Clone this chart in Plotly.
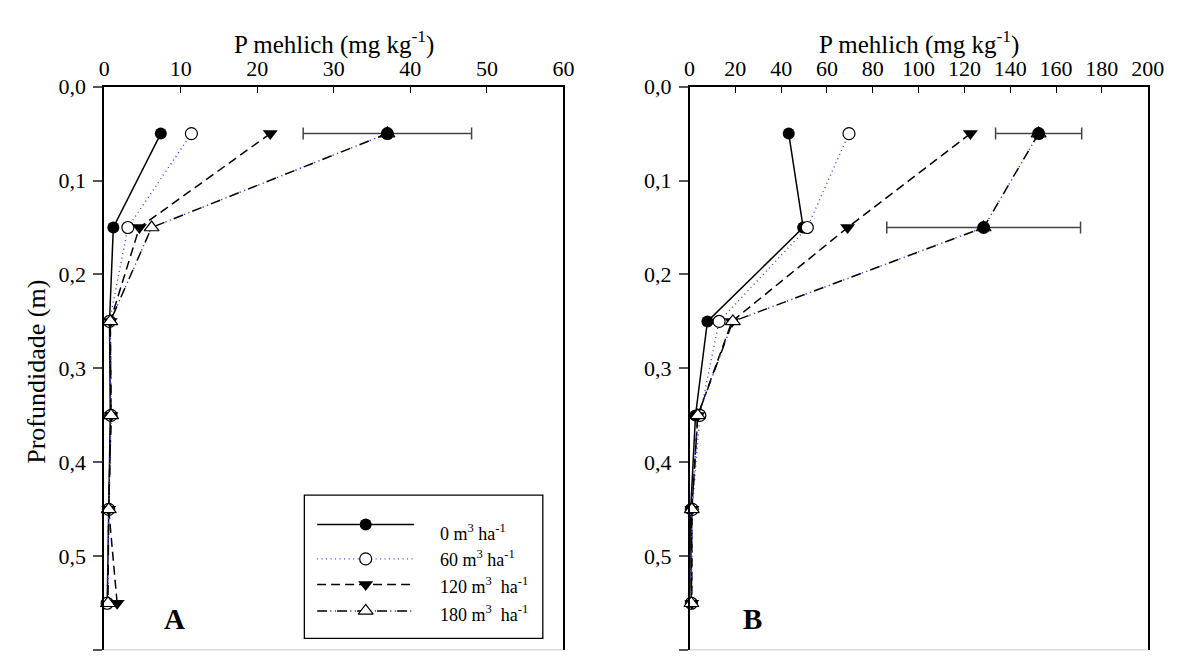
import plotly.graph_objects as go

# Soil depth of each sampling layer (m)
depth = [0.05, 0.15, 0.25, 0.35, 0.45, 0.55]

# Panel A: P mehlich (mg kg-1) per manure dose
a_0 = [7.4, 1.2, 0.7, 0.8, 0.6, 0.4]
a_60 = [11.4, 3.1, 0.7, 0.9, 0.6, 0.4]
a_120 = [21.7, 4.6, 0.8, 0.9, 0.6, 1.7]
a_180 = [37.0, 6.2, 0.8, 0.9, 0.6, 0.5]
a_err_idx = [0]
a_err_sd = [11.0]

# Panel B: P mehlich (mg kg-1) per manure dose
b_0 = [43.3, 49.6, 7.8, 2.6, 0.5, 0.7]
b_60 = [69.6, 51.4, 12.9, 4.5, 1.2, 0.8]
b_120 = [122.6, 69.0, 18.5, 3.6, 1.0, 1.0]
b_180 = [152.4, 128.4, 18.9, 3.6, 1.0, 0.8]
b_err_idx = [0, 1]
b_err_sd = [18.8, 42.3]

dose_labels = ["0 m<sup>3</sup> ha<sup>-1</sup>",
               "60 m<sup>3</sup> ha<sup>-1</sup>",
               "120 m<sup>3</sup>\u00a0 ha<sup>-1</sup>",
               "180 m<sup>3</sup>\u00a0 ha<sup>-1</sup>"]

y_ticks = [0.0, 0.1, 0.2, 0.3, 0.4, 0.5, 0.6]
y_ticktext = ["0,0", "0,1", "0,2", "0,3", "0,4", "0,5", "0,6"]
a_xticks = [0, 10, 20, 30, 40, 50, 60]
b_xticks = [0, 20, 40, 60, 80, 100, 120, 140, 160, 180, 200]

W, H = 1183, 662
FONT = "Times New Roman, Liberation Serif, serif"
BLUE = "#3a3aff"

fig = go.Figure()

# line / marker styles for the four doses
styles = [
    dict(line=dict(color="black", width=1.5),
         marker=dict(symbol="circle", size=12, color="black")),
    dict(line=dict(color=BLUE, width=1.4, dash="1px,3.5px"),
         marker=dict(symbol="circle", size=12, color="white",
                     line=dict(color="black", width=1.2))),
    dict(line=dict(color="black", width=1.5, dash="9px,5px"),
         marker=dict(symbol="triangle-down", size=13, color="black")),
    dict(line=dict(color="black", width=1.5, dash="10px,10px"),
         marker=dict(symbol="triangle-up", size=13, color="white",
                     line=dict(color="black", width=1.2))),
]
DOTS_180 = "0px,13px,1.3px,3.4px,1.3px,1px"


def add_panel(series, err_idx, err_sd, xa, ya):
    for k, vals in enumerate(series):
        st = styles[k]
        if k == 3:
            # blue dots between the black dashes of the 180 series
            fig.add_trace(go.Scatter(
                x=vals, y=depth, mode="lines", xaxis=xa, yaxis=ya,
                line=dict(color=BLUE, width=1.4, dash=DOTS_180),
                showlegend=False, hoverinfo="skip"))
        fig.add_trace(go.Scatter(
            x=vals, y=depth, mode="lines+markers", xaxis=xa, yaxis=ya,
            line=st["line"], marker=st["marker"], cliponaxis=False,
            showlegend=False))
    # mean +- deviation of the highest dose
    top = series[3]
    fig.add_trace(go.Scatter(
        x=[top[i] for i in err_idx], y=[depth[i] for i in err_idx],
        mode="markers", xaxis=xa, yaxis=ya, cliponaxis=False,
        marker=dict(symbol="circle", size=13, color="black"),
        error_x=dict(type="data", array=err_sd, color="#444444",
                     thickness=1.5, width=6),
        showlegend=False))


add_panel([a_0, a_60, a_120, a_180], a_err_idx, a_err_sd, "x", "y")
add_panel([b_0, b_60, b_120, b_180], b_err_idx, b_err_sd, "x2", "y2")

# legend drawn on its own small axis pair
leg_rows = [522, 557, 583, 610]
leg_text_rows = [530, 557, 584, 613]
for k, row in enumerate(leg_rows):
    st = styles[k]
    if k == 3:
        fig.add_trace(go.Scatter(
            x=[0, 1], y=[row, row], mode="lines", xaxis="x3", yaxis="y3",
            line=dict(color=BLUE, width=1.4, dash=DOTS_180),
            showlegend=False, hoverinfo="skip"))
    fig.add_trace(go.Scatter(
        x=[0, 1], y=[row, row], mode="lines", xaxis="x3", yaxis="y3",
        line=st["line"], showlegend=False, hoverinfo="skip"))
    fig.add_trace(go.Scatter(
        x=[0.5], y=[row], mode="markers", xaxis="x3", yaxis="y3",
        marker=st["marker"], cliponaxis=False,
        showlegend=False, hoverinfo="skip"))
    fig.add_annotation(x=440 / W, y=1 - leg_text_rows[k] / H,
                       xref="paper", yref="paper",
                       text=dose_labels[k], showarrow=False, xanchor="left",
                       yanchor="middle", font=dict(family=FONT, size=18, color="black"))

tick_font = dict(family=FONT, size=22, color="black")
y_dom = [1 - 650 / H, 1 - 76 / H]


def xaxis_cfg(x0, x1, rng, ticks):
    return dict(domain=[x0 / W, x1 / W], range=rng, side="top",
                tickvals=ticks, ticks="inside", ticklen=7, tickwidth=1.2,
                tickcolor="black", showline=True, linecolor="black",
                linewidth=1.5, showgrid=False, zeroline=False,
                tickfont=tick_font, fixedrange=True)


def yaxis_cfg(anchor):
    return dict(domain=y_dom, range=[0.6, 0.0], anchor=anchor,
                tickvals=y_ticks, ticktext=y_ticktext, ticks="outside",
                ticklen=9, tickwidth=1.5, tickcolor="#555555",
                showline=True, mirror=True, linecolor="black", linewidth=1.5,
                showgrid=False, zeroline=False, tickfont=tick_font,
                ticklabelstandoff=3)


fig.update_layout(
    width=W, height=H, margin=dict(l=0, r=0, t=0, b=0),
    paper_bgcolor="white", plot_bgcolor="white",
    font=dict(family=FONT, color="black"),
    xaxis=xaxis_cfg(100, 568, [0, 60], a_xticks) | dict(anchor="y"),
    yaxis=yaxis_cfg("x"),
    xaxis2=xaxis_cfg(696.5, 1163.3, [0, 200], b_xticks) | dict(anchor="y2"),
    yaxis2=yaxis_cfg("x2"),
    xaxis3=dict(domain=[317 / W, 416 / W], range=[0, 1], visible=False,
                anchor="y3", fixedrange=True),
    yaxis3=dict(domain=[1 - 638 / H, 1 - 492 / H], range=[638, 492],
                visible=False, anchor="x3", fixedrange=True),
    showlegend=False,
)

# light bottom frame line of each panel
for xr, yr in (("x domain", "y"), ("x2 domain", "y2")):
    fig.add_shape(type="line", xref=xr, yref=yr, x0=0, x1=1, y0=0.6, y1=0.6,
                  line=dict(color="#b5b5b5", width=1.5))

# legend frame
fig.add_shape(type="rect", xref="paper", yref="paper",
              x0=304 / W, x1=547 / W, y0=1 - 638 / H, y1=1 - 492 / H,
              line=dict(color="black", width=1.3), fillcolor="rgba(0,0,0,0)")

title_txt = "P mehlich (mg kg<sup>-1</sup>)"
for cx in ((100 + 568) / 2, (696.5 + 1163.3) / 2):
    fig.add_annotation(x=cx / W, y=1 - 31 / H, xref="paper", yref="paper",
                       text=title_txt, showarrow=False, xanchor="center",
                       yanchor="middle", font=dict(family=FONT, size=25, color="black"))

fig.add_annotation(x=31 / W, y=1 - 366 / H, xref="paper", yref="paper",
                   text="Profundidade (m)", textangle=-90, showarrow=False,
                   xanchor="center", yanchor="middle",
                   font=dict(family=FONT, size=26, color="black"))

for lab, px in (("A", 172), ("B", 761)):
    fig.add_annotation(x=px / W, y=1 - 618 / H, xref="paper", yref="paper",
                       text="<b>" + lab + "</b>", showarrow=False,
                       xanchor="center", yanchor="middle",
                       font=dict(family=FONT, size=29, color="black"))

fig.write_html("out.html")
